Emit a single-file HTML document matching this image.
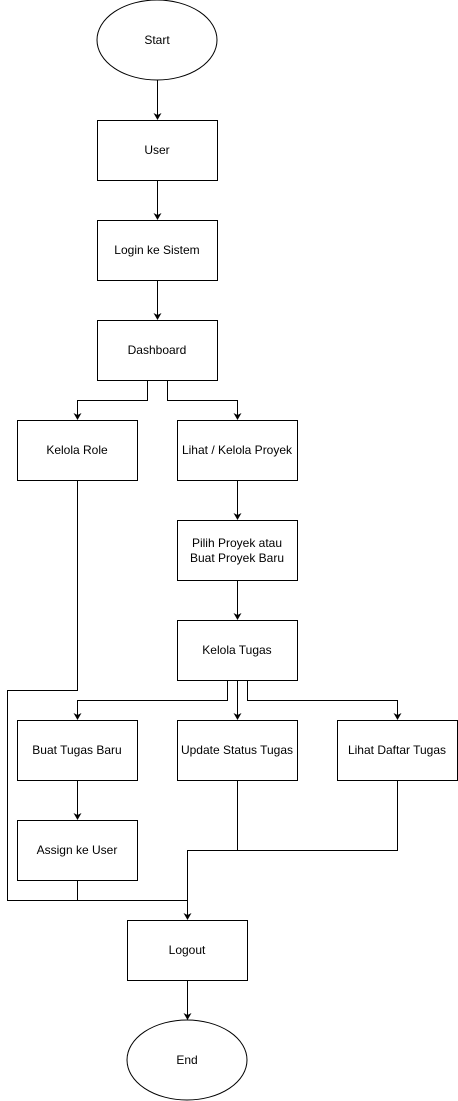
<!DOCTYPE html>
<html><head><meta charset="utf-8"><style>
html,body{margin:0;padding:0;background:#fff;}
svg{display:block;}
text{font-family:"Liberation Sans",sans-serif;font-size:12px;fill:#000;}
</style></head><body>
<svg width="458" height="1101" viewBox="0 0 458 1101" xmlns="http://www.w3.org/2000/svg">
<g fill="#fff" stroke="#000" stroke-width="1">
<ellipse cx="157" cy="40" rx="60" ry="40"/>
<rect x="97.5" y="120.5" width="120" height="60"/>
<rect x="97.5" y="220.5" width="120" height="60"/>
<rect x="97.5" y="320.5" width="120" height="60"/>
<rect x="17.5" y="420.5" width="120" height="60"/>
<rect x="177.5" y="420.5" width="120" height="60"/>
<rect x="177.5" y="520.5" width="120" height="60"/>
<rect x="177.5" y="620.5" width="120" height="60"/>
<rect x="17.5" y="720.5" width="120" height="60"/>
<rect x="177.5" y="720.5" width="120" height="60"/>
<rect x="337.5" y="720.5" width="120" height="60"/>
<rect x="17.5" y="820.5" width="120" height="60"/>
<rect x="127.5" y="920.5" width="120" height="60"/>
<ellipse cx="187" cy="1060" rx="60" ry="40"/>
</g>
<g fill="none" stroke="#000" stroke-width="1">
<path d="M157.5,80 V115"/>
<path d="M157.5,181 V215"/>
<path d="M157.5,281 V315"/>
<path d="M147.5,381 V400.5 H77.5 V415"/>
<path d="M167.5,381 V400.5 H237.5 V415"/>
<path d="M237.5,481 V515"/>
<path d="M237.5,581 V615"/>
<path d="M227.5,681 V700.5 H77.5 V715"/>
<path d="M237.5,681 V715"/>
<path d="M247.5,681 V700.5 H397.5 V715"/>
<path d="M77.5,781 V815"/>
<path d="M77.5,481 V690.5 H7.5 V900.5 H187.5"/>
<path d="M77.5,881 V900.5"/>
<path d="M237.5,781 V850.5 H187.5 V915"/>
<path d="M397.5,781 V850.5 H187.5"/>
<path d="M187.5,981 V1015"/>
</g>
<g fill="#000">
<polygon points="153.5,113 157.5,115 161.5,113 157.5,120"/>
<polygon points="153.5,213 157.5,215 161.5,213 157.5,220"/>
<polygon points="153.5,313 157.5,315 161.5,313 157.5,320"/>
<polygon points="73.5,413 77.5,415 81.5,413 77.5,420"/>
<polygon points="233.5,413 237.5,415 241.5,413 237.5,420"/>
<polygon points="233.5,513 237.5,515 241.5,513 237.5,520"/>
<polygon points="233.5,613 237.5,615 241.5,613 237.5,620"/>
<polygon points="73.5,713 77.5,715 81.5,713 77.5,720"/>
<polygon points="233.5,713 237.5,715 241.5,713 237.5,720"/>
<polygon points="393.5,713 397.5,715 401.5,713 397.5,720"/>
<polygon points="73.5,813 77.5,815 81.5,813 77.5,820"/>
<polygon points="183.5,913 187.5,915 191.5,913 187.5,920"/>
<polygon points="183.5,1013 187.5,1015 191.5,1013 187.5,1020"/>
</g>
<g text-anchor="middle">
<text x="157" y="44">Start</text>
<text x="157" y="154">User</text>
<text x="157" y="254">Login ke Sistem</text>
<text x="157" y="354">Dashboard</text>
<text x="77" y="454">Kelola Role</text>
<text x="237" y="454">Lihat / Kelola Proyek</text>
<text x="237" y="547">Pilih Proyek atau</text>
<text x="237" y="562">Buat Proyek Baru</text>
<text x="237" y="654">Kelola Tugas</text>
<text x="77" y="754">Buat Tugas Baru</text>
<text x="237" y="754">Update Status Tugas</text>
<text x="397" y="754">Lihat Daftar Tugas</text>
<text x="77" y="854">Assign ke User</text>
<text x="187" y="954">Logout</text>
<text x="187" y="1064">End</text>
</g>
</svg>
</body></html>
